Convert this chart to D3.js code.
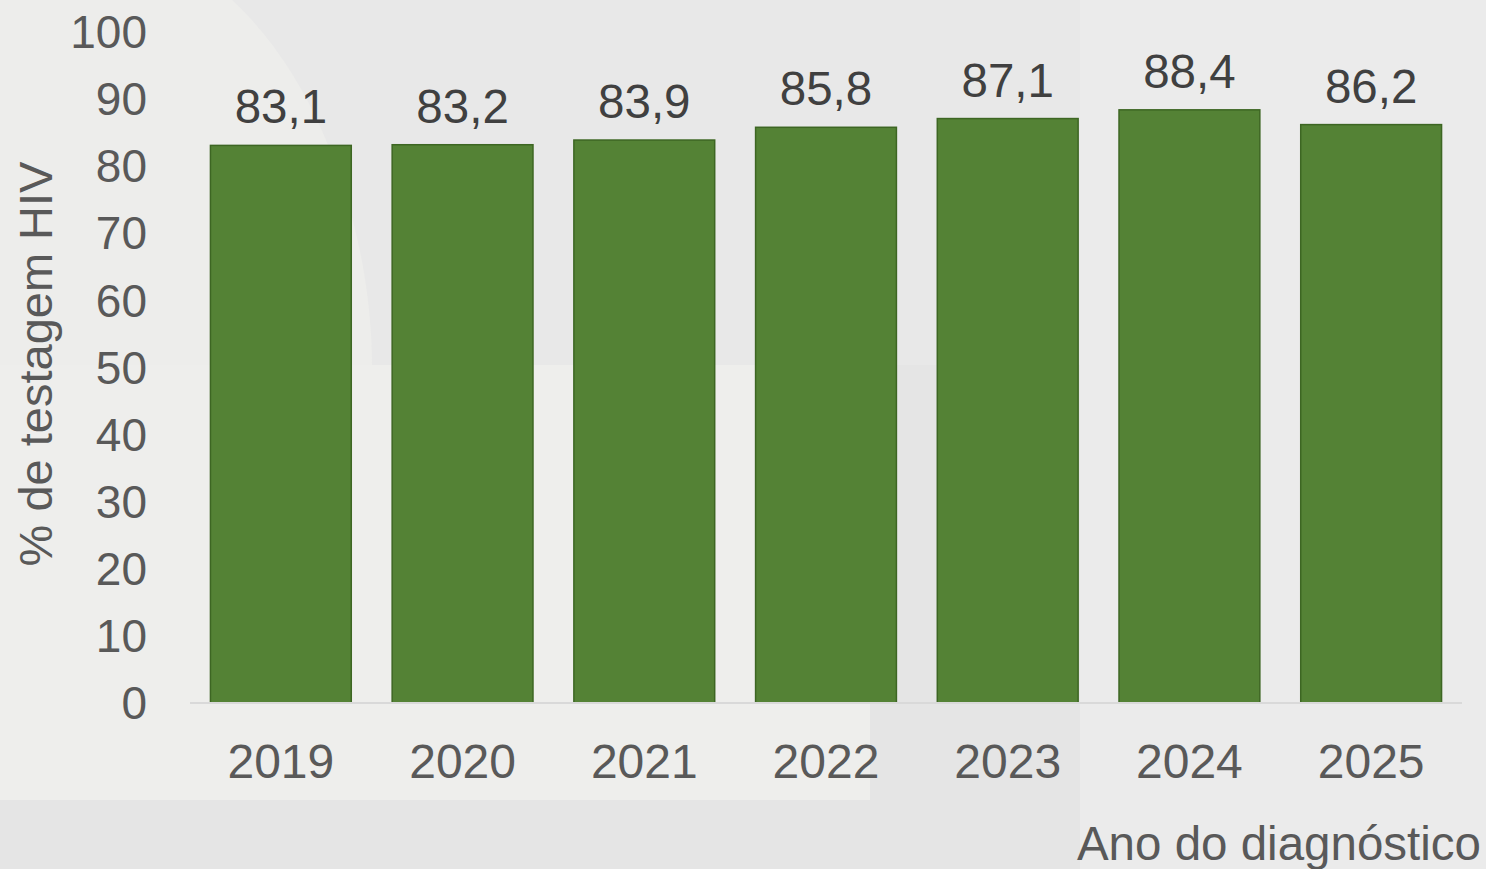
<!DOCTYPE html>
<html>
<head>
<meta charset="utf-8">
<script src="https://cdn.jsdelivr.net/npm/d3@7"></script>
<style>
  body { margin: 0; background: #ededeb; overflow: hidden; }
  text { font-family: "Liberation Sans", Arial, sans-serif; }
</style>
</head>
<body>
<div id="chart"></div>
<script>
// chart data
var years = ["2019", "2020", "2021", "2022", "2023", "2024", "2025"];
var testagem = [83.1, 83.2, 83.9, 85.8, 87.1, 88.4, 86.2];
var yTicks = [0, 10, 20, 30, 40, 50, 60, 70, 80, 90, 100];

var svgWidth = 1486;
var svgHeight = 869;

var svg = d3.select("#chart")
  .append("svg")
  .attr("width", svgWidth)
  .attr("height", svgHeight);

// background decoration (slide shapes)
var bg = svg.append("g");
bg.append("rect").attr("x", 0).attr("y", 0).attr("width", svgWidth).attr("height", svgHeight).attr("fill", "#ededeb");
bg.append("path")
  .attr("d", "M232,0 L1080,0 L1080,365 L372,365 C372,250 330,90 232,0 Z")
  .attr("fill", "#e8e8e8");
bg.append("rect").attr("x", 0).attr("y", 365).attr("width", 870).attr("height", 435).attr("fill", "#eeeeec");
bg.append("rect").attr("x", 0).attr("y", 800).attr("width", 870).attr("height", 69).attr("fill", "#e5e5e5");
bg.append("rect").attr("x", 870).attr("y", 365).attr("width", 210).attr("height", 504).attr("fill", "#e5e5e5");
bg.append("rect").attr("x", 1080).attr("y", 0).attr("width", 406).attr("height", 869).attr("fill", "#ebebeb");

// scales
var x = d3.scaleBand()
  .domain(years)
  .range([190, 1462])
  .paddingInner(0.225)
  .paddingOuter(0.1125);

var y = d3.scaleLinear()
  .domain([0, 100])
  .range([703, 32]);

// y axis (labels only)
var yAxis = svg.append("g")
  .attr("transform", "translate(147,0)")
  .call(d3.axisLeft(y).tickValues(yTicks).tickSize(0).tickPadding(0));
yAxis.select(".domain").remove();
yAxis.selectAll("text")
  .attr("font-size", 46)
  .attr("fill", "#595959")
  .attr("dy", "0.34em")
  .style("font-family", "'Liberation Sans', Arial, sans-serif");

// bars
svg.selectAll("rect.bar")
  .data(testagem)
  .enter()
  .append("rect")
  .attr("class", "bar")
  .attr("x", (d, i) => x(years[i]))
  .attr("y", d => y(d))
  .attr("width", x.bandwidth())
  .attr("height", d => y(0) - y(d))
  .attr("fill", "#548235")
  .attr("stroke", "#3d6623")
  .attr("stroke-width", 1.5);

// baseline
svg.append("line")
  .attr("x1", 190)
  .attr("x2", 1462)
  .attr("y1", y(0))
  .attr("y2", y(0))
  .attr("stroke", "#d9d9d9")
  .attr("stroke-width", 2);

// x axis labels
var xAxis = svg.append("g")
  .attr("transform", `translate(0, ${y(0)})`)
  .call(d3.axisBottom(x).tickSize(0).tickPadding(0));
xAxis.select(".domain").remove();
xAxis.selectAll("text")
  .attr("font-size", 48)
  .attr("fill", "#595959")
  .attr("y", 75)
  .attr("dy", 0)
  .style("font-family", "'Liberation Sans', Arial, sans-serif");

// data labels
svg.selectAll("text.value")
  .data(testagem)
  .enter()
  .append("text")
  .attr("class", "value")
  .attr("x", (d, i) => x(years[i]) + x.bandwidth() / 2)
  .attr("y", d => y(d) - 22)
  .attr("text-anchor", "middle")
  .attr("font-size", 47.5)
  .attr("fill", "#404040")
  .text(d => d.toFixed(1).replace(".", ","));

// axis titles
svg.append("text")
  .attr("transform", "translate(52, 364) rotate(-90)")
  .attr("text-anchor", "middle")
  .attr("font-size", 47)
  .attr("fill", "#595959")
  .text("% de testagem HIV");

svg.append("text")
  .attr("x", 1481)
  .attr("y", 860)
  .attr("text-anchor", "end")
  .attr("font-size", 47.5)
  .attr("fill", "#595959")
  .text("Ano do diagnóstico");
</script>
</body>
</html>
